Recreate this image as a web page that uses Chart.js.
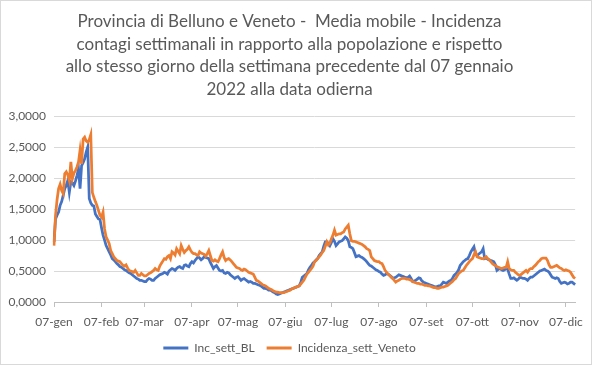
<!DOCTYPE html>
<html>
<head>
<meta charset="utf-8">
<script src="https://cdn.jsdelivr.net/npm/chart.js@4/dist/chart.umd.min.js"></script>
<style>
  body { margin: 0; background: #fff; }
  #wrap { width: 592px; height: 365px; box-sizing: border-box; border: 1px solid #d9d9d9; }
</style>
</head>
<body>
<div id="wrap"><canvas id="chartCanvas"></canvas></div>
<script>
const monthNames = ['gen', 'feb', 'mar', 'apr', 'mag', 'giu', 'lug', 'ago', 'set', 'ott', 'nov', 'dic']
const startDay = [2022, 0, 7]
const yTicks = [0, 0.5, 1, 1.5, 2, 2.5, 3]

// Inc_sett_BL, one value per day from 07-gen
const incBL = [
  0.97, 1.34, 1.40, 1.45, 1.56, 1.62, 1.72, 1.83, 1.88, 1.96,
  1.77, 1.94, 1.92, 1.88, 1.95, 2.04, 2.15, 1.83, 2.20, 2.25,
  2.31, 2.42, 2.50, 1.67, 1.60, 1.56, 1.55, 1.42, 1.38, 1.34,
  1.33, 1.20, 1.08, 1.00, 0.91, 0.86, 0.81, 0.76, 0.70, 0.68,
  0.65, 0.62, 0.60, 0.57, 0.56, 0.54, 0.52, 0.51, 0.49, 0.47,
  0.46, 0.44, 0.42, 0.40, 0.38, 0.37, 0.35, 0.35, 0.34, 0.33,
  0.33, 0.36, 0.38, 0.37, 0.35, 0.35, 0.38, 0.40, 0.42, 0.44,
  0.45, 0.46, 0.48, 0.47, 0.45, 0.50, 0.52, 0.54, 0.53, 0.51,
  0.54, 0.56, 0.57, 0.55, 0.54, 0.59, 0.60, 0.58, 0.57, 0.62,
  0.65, 0.63, 0.67, 0.70, 0.73, 0.71, 0.68, 0.70, 0.73, 0.72,
  0.71, 0.70, 0.64, 0.59, 0.54, 0.57, 0.59, 0.55, 0.51, 0.50,
  0.51, 0.47, 0.46, 0.48, 0.47, 0.44, 0.42, 0.40, 0.38, 0.40,
  0.41, 0.38, 0.35, 0.37, 0.38, 0.36, 0.34, 0.32, 0.33, 0.32,
  0.30, 0.30, 0.29, 0.28, 0.27, 0.26, 0.24, 0.22, 0.22, 0.21,
  0.19, 0.19, 0.18, 0.16, 0.15, 0.13, 0.12, 0.13, 0.14, 0.15,
  0.16, 0.17, 0.18, 0.19, 0.20, 0.21, 0.22, 0.23, 0.24, 0.25,
  0.26, 0.32, 0.40, 0.42, 0.44, 0.46, 0.52, 0.56, 0.59, 0.63,
  0.65, 0.68, 0.70, 0.75, 0.78, 0.81, 0.90, 0.97, 0.97, 0.95,
  0.91, 0.96, 1.02, 0.98, 0.91, 0.94, 0.97, 0.98, 0.99, 1.02,
  1.05, 1.03, 0.99, 0.89, 0.88, 0.86, 0.80, 0.73, 0.74, 0.75,
  0.73, 0.72, 0.70, 0.68, 0.65, 0.62, 0.59, 0.58, 0.56, 0.54,
  0.52, 0.51, 0.49, 0.48, 0.45, 0.43, 0.44, 0.46, 0.45, 0.43,
  0.41, 0.38, 0.39, 0.40, 0.42, 0.44, 0.43, 0.42, 0.41, 0.40,
  0.39, 0.40, 0.42, 0.38, 0.33, 0.34, 0.35, 0.37, 0.39, 0.38,
  0.34, 0.32, 0.31, 0.30, 0.29, 0.28, 0.27, 0.26, 0.25, 0.24,
  0.25, 0.26, 0.26, 0.29, 0.32, 0.31, 0.30, 0.32, 0.34, 0.35,
  0.38, 0.43, 0.45, 0.48, 0.52, 0.59, 0.62, 0.65, 0.67, 0.69,
  0.70, 0.75, 0.81, 0.85, 0.89, 0.78, 0.75, 0.77, 0.79, 0.81,
  0.86, 0.70, 0.71, 0.69, 0.68, 0.67, 0.66, 0.65, 0.60, 0.51,
  0.53, 0.54, 0.52, 0.51, 0.52, 0.54, 0.53, 0.45, 0.38, 0.38,
  0.39, 0.37, 0.35, 0.37, 0.40, 0.39, 0.38, 0.38, 0.37, 0.35,
  0.38, 0.40, 0.40, 0.42, 0.44, 0.46, 0.48, 0.50, 0.51, 0.52,
  0.53, 0.51, 0.50, 0.48, 0.44, 0.40, 0.39, 0.38, 0.39, 0.38,
  0.33, 0.30, 0.31, 0.32, 0.31, 0.29, 0.30, 0.32, 0.32, 0.30,
  0.28
]

// Incidenza_sett_Veneto, one value per day from 07-gen
const incVeneto = [
  0.91, 1.40, 1.65, 1.83, 1.90, 1.80, 1.75, 2.07, 2.10, 2.05,
  1.96, 2.26, 1.99, 2.08, 2.12, 2.18, 2.26, 2.45, 2.23, 2.63,
  2.66, 2.60, 2.58, 2.62, 2.70, 1.77, 1.69, 1.62, 1.56, 1.48,
  1.40, 1.37, 1.45, 1.18, 1.05, 1.00, 0.94, 0.83, 0.78, 0.73,
  0.70, 0.67, 0.66, 0.65, 0.62, 0.59, 0.58, 0.60, 0.55, 0.51,
  0.50, 0.49, 0.48, 0.51, 0.47, 0.43, 0.43, 0.46, 0.44, 0.42,
  0.42, 0.44, 0.46, 0.47, 0.49, 0.51, 0.54, 0.52, 0.51, 0.58,
  0.62, 0.66, 0.70, 0.69, 0.73, 0.75, 0.70, 0.81, 0.79, 0.76,
  0.86, 0.82, 0.78, 0.91, 0.85, 0.80, 0.83, 0.85, 0.89, 0.84,
  0.80, 0.78, 0.78, 0.76, 0.75, 0.81, 0.79, 0.78, 0.77, 0.74,
  0.78, 0.83, 0.75, 0.67, 0.66, 0.68, 0.66, 0.65, 0.70, 0.76,
  0.81, 0.72, 0.67, 0.69, 0.70, 0.68, 0.65, 0.62, 0.59, 0.56,
  0.55, 0.54, 0.52, 0.51, 0.53, 0.52, 0.50, 0.48, 0.47, 0.46,
  0.45, 0.40, 0.35, 0.34, 0.32, 0.30, 0.28, 0.27, 0.26, 0.24,
  0.22, 0.21, 0.20, 0.18, 0.17, 0.16, 0.16, 0.15, 0.15, 0.15,
  0.15, 0.16, 0.17, 0.18, 0.19, 0.21, 0.22, 0.23, 0.24, 0.25,
  0.26, 0.29, 0.32, 0.35, 0.40, 0.45, 0.48, 0.51, 0.54, 0.58,
  0.65, 0.67, 0.70, 0.73, 0.76, 0.80, 0.83, 0.90, 0.97, 0.92,
  0.95, 1.02, 1.08, 1.16, 1.08, 1.09, 1.10, 1.10, 1.12, 1.13,
  1.18, 1.21, 1.24, 1.10, 0.99, 0.98, 0.98, 0.97, 0.96, 0.95,
  0.94, 0.93, 0.91, 0.89, 0.86, 0.85, 0.83, 0.73, 0.70, 0.67,
  0.66, 0.65, 0.65, 0.63, 0.62, 0.57, 0.51, 0.48, 0.45, 0.43,
  0.40, 0.38, 0.35, 0.32, 0.34, 0.35, 0.37, 0.38, 0.38, 0.38,
  0.37, 0.37, 0.36, 0.35, 0.33, 0.32, 0.31, 0.30, 0.30, 0.29,
  0.29, 0.28, 0.27, 0.27, 0.26, 0.26, 0.25, 0.24, 0.23, 0.23,
  0.22, 0.22, 0.23, 0.24, 0.24, 0.25, 0.26, 0.27, 0.29, 0.31,
  0.33, 0.36, 0.38, 0.42, 0.46, 0.48, 0.50, 0.51, 0.55, 0.59,
  0.62, 0.65, 0.68, 0.70, 0.76, 0.81, 0.73, 0.72, 0.71, 0.70,
  0.70, 0.71, 0.73, 0.70, 0.68, 0.65, 0.62, 0.60, 0.59, 0.57,
  0.56, 0.55, 0.54, 0.55, 0.56, 0.56, 0.65, 0.54, 0.52, 0.51,
  0.51, 0.48, 0.46, 0.44, 0.43, 0.45, 0.47, 0.49, 0.51, 0.48,
  0.52, 0.54, 0.54, 0.57, 0.59, 0.62, 0.65, 0.67, 0.70, 0.71,
  0.71, 0.71, 0.67, 0.60, 0.56, 0.56, 0.57, 0.58, 0.59, 0.57,
  0.55, 0.54, 0.52, 0.51, 0.52, 0.51, 0.50, 0.48, 0.44, 0.40,
  0.38
]

// day labels like "07-gen"
const labels = incBL.map((v, i) => {
  const d = new Date(Date.UTC(startDay[0], startDay[1], startDay[2] + i))
  return String(d.getUTCDate()).padStart(2, '0') + '-' + monthNames[d.getUTCMonth()]
})

const textGrey = '#595959'
const font = 'Lato, "Open Sans", sans-serif'

const chartCanvas = document.getElementById('chartCanvas')
let chart = new Chart(chartCanvas, {
  type: 'line',
  data: {
    labels: labels,
    datasets: [
      {
        label: 'Inc_sett_BL',
        data: incBL,
        borderColor: '#4472C4',
        backgroundColor: '#4472C4',
        borderWidth: 2.75,
        pointRadius: 0,
        tension: 0,
        order: 1
      },
      {
        label: 'Incidenza_sett_Veneto',
        data: incVeneto,
        borderColor: '#ED7D31',
        backgroundColor: '#ED7D31',
        borderWidth: 2.75,
        pointRadius: 0,
        tension: 0,
        order: 0
      }
    ]
  },
  options: {
    responsive: true,
    maintainAspectRatio: false,
    animation: false,
    layout: { padding: { left: 0, right: 13, top: 5, bottom: 0 } },
    plugins: {
      title: {
        display: true,
        text: [
          'Provincia di Belluno e Veneto -  Media mobile - Incidenza',
          'contagi settimanali in rapporto alla popolazione e rispetto',
          'allo stesso giorno della settimana precedente dal 07 gennaio',
          '2022 alla data odierna'
        ],
        color: textGrey,
        font: { family: font, size: 17, weight: 'normal', lineHeight: 1.34 },
        padding: { top: 4, bottom: 15 }
      },
      legend: {
        position: 'bottom',
        labels: {
          color: textGrey,
          font: { family: font, size: 12 },
          boxWidth: 25,
          boxHeight: 3,
          padding: 12,
          sort: (a, b) => a.datasetIndex - b.datasetIndex,
          generateLabels: (c) => Chart.defaults.plugins.legend.labels.generateLabels(c)
            .map(item => Object.assign(item, { lineWidth: 0 }))
        }
      },
      tooltip: { enabled: false }
    },
    scales: {
      x: {
        offset: false,
        afterFit: (scale) => { scale.height = 28 },
        grid: { drawOnChartArea: false, color: '#bfbfbf', tickLength: 5 },
        border: { color: '#bfbfbf' },
        ticks: {
          autoSkip: false,
          maxRotation: 0,
          color: textGrey,
          font: { family: font, size: 12 },
          padding: 8,
          callback: function (value, index) {
            const lab = this.getLabelForValue(value)
            return lab.startsWith('07-') ? lab : null
          }
        }
      },
      y: {
        min: 0,
        max: 3,
        afterBuildTicks: (scale) => { scale.ticks = yTicks.map(v => ({ value: v })) },
        afterFit: (scale) => { scale.width = 53 },
        grid: { color: '#d9d9d9', drawTicks: false },
        border: { display: false },
        ticks: {
          color: textGrey,
          font: { family: font, size: 12 },
          padding: 8,
          callback: (v) => v.toFixed(4).replace('.', ',')
        }
      }
    }
  }
})
</script>
</body>
</html>
